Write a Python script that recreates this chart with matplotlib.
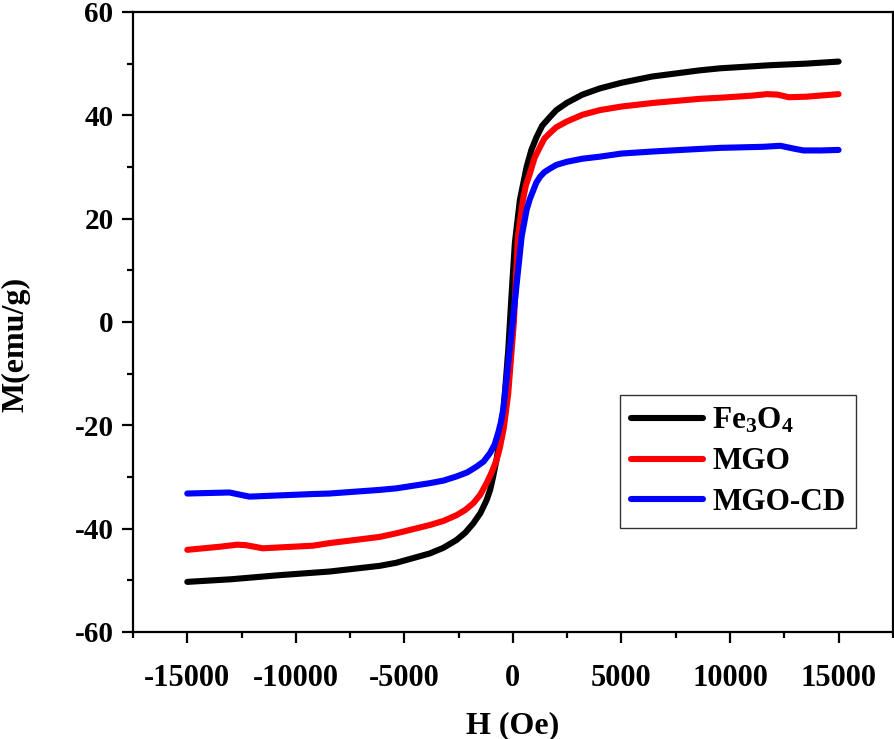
import numpy as np
import matplotlib
matplotlib.use('Agg')
import matplotlib.pyplot as plt

plt.rcParams['font.family'] = ['Liberation Serif', 'DejaVu Serif']
plt.rcParams['font.weight'] = 'bold'
plt.rcParams['axes.unicode_minus'] = False
plt.rcParams['mathtext.fontset'] = 'custom'
plt.rcParams['mathtext.rm'] = 'Liberation Serif:bold'
plt.rcParams['mathtext.bf'] = 'Liberation Serif:bold'
plt.rcParams['mathtext.it'] = 'Liberation Serif:bold'

# Fe3O4
h_fe = [-15000, -13000, -10750, -8450, -6140, -5370, -3830, -3200, -2600, -2200,
        -1830, -1500, -1215, -1050, -910, -750, -600, -420, -215, -60, 90, 320, 630,
        850, 1090, 1350, 1710, 2000, 2480, 3200, 4000, 5000, 6400, 8600, 9550,
        11860, 13500, 15000]
m_fe = [-50.3, -49.8, -49.0, -48.3, -47.2, -46.6, -44.8, -43.7, -42.2, -40.8,
        -39.0, -37.0, -34.5, -32.5, -29.9, -26.5, -22.5, -16.5, -5.4, 5.5, 15.3, 23.6, 30.0,
        33.3, 35.8, 38.0, 39.7, 41.0, 42.4, 44.0, 45.2, 46.3, 47.5, 48.7, 49.1,
        49.7, 50.0, 50.4]

# MGO
h_mgo = [-15000, -13500, -12700, -12300, -11520, -9215, -8450, -6140, -5370, -3830,
         -3200, -2600, -2200, -1830, -1500, -1215, -1000, -750, -600, -420, -220, 45,
         230, 460, 600, 785, 1000, 1250, 1450, 1710, 2000, 2480, 3200, 4000, 5000,
         6460, 8630, 9550, 11000, 11700, 12200, 12700, 13500, 15000]
m_mgo = [-44.1, -43.5, -43.1, -43.2, -43.8, -43.3, -42.8, -41.6, -40.9, -39.3,
         -38.5, -37.4, -36.4, -35.1, -33.4, -31.2, -29.3, -26.7, -24.3, -20.5, -14.0, 0.0,
         16.5, 23.6, 26.5, 28.8, 31.8, 33.9, 35.5, 36.6, 37.7, 38.8, 40.1, 41.0, 41.7,
         42.4, 43.2, 43.4, 43.8, 44.1, 44.0, 43.5, 43.6, 44.1]

# MGO-CD
h_cd = [-15000, -13060, -12600, -12140, -9215, -8450, -6140, -5370, -3830, -3200,
        -2600, -2100, -1675, -1350, -1060, -850, -680, -560, -450, -10, 400, 630,
        780, 940, 1080, 1250, 1450, 1710, 2000, 2480, 3200, 4015, 5000, 6460,
        8630, 9550, 11500, 12320, 13000, 13390, 14200, 15000]
m_cd = [-33.2, -33.0, -33.4, -33.8, -33.3, -33.2, -32.5, -32.2, -31.2, -30.7,
        -29.9, -29.1, -28.0, -27.0, -25.4, -23.8, -21.5, -19.5, -17.0, 0.0, 16.5, 21.7,
        23.8, 25.5, 27.0, 28.1, 29.0, 29.7, 30.4, 31.0, 31.6, 32.0, 32.6, 33.0,
        33.5, 33.7, 33.9, 34.1, 33.5, 33.2, 33.2, 33.3]

fig = plt.figure(figsize=(8.95, 7.39), dpi=100)
ax = fig.add_axes([0.1486, 0.1448, 0.849, 0.839])

lw = 4.4
ax.plot(h_fe, m_fe, color='black', lw=lw, solid_capstyle='round', solid_joinstyle='round',
        label=r'Fe$_\mathbf{3}$O$_\mathbf{4}$')
ax.plot(h_mgo, m_mgo, color='#ff0000', lw=lw, solid_capstyle='round', solid_joinstyle='round',
        label='MGO')
ax.plot(h_cd, m_cd, color='#0000ff', lw=lw, solid_capstyle='round', solid_joinstyle='round',
        label='MGO-CD')

ax.set_xlim(-17500, 17500)
ax.set_ylim(-60, 60)
ax.set_xticks(np.arange(-15000, 15001, 5000))
ax.set_xticks(np.arange(-17500, 17501, 2500), minor=True)
ax.set_yticks(np.arange(-60, 61, 20))
ax.set_yticks(np.arange(-50, 51, 10), minor=True)

for s in ax.spines.values():
    s.set_linewidth(1.6)
ax.tick_params(which='major', direction='out', length=8, width=1.6)
ax.tick_params(which='minor', direction='out', length=4.5, width=1.6)
ax.tick_params(axis='x', labelsize=22, pad=15)
ax.tick_params(axis='y', labelsize=21, pad=6)
for lab in ax.get_xticklabels() + ax.get_yticklabels():
    lab.set_fontweight('bold')

ax.set_xlabel('H (Oe)', fontsize=23, fontweight='bold', labelpad=13)
ax.set_ylabel('M(emu/g)', fontsize=23, fontweight='bold')
ax.yaxis.set_label_coords(-0.135, 0.463)

leg = ax.legend(loc='upper left', bbox_to_anchor=(0.641, 0.382), fontsize=22.5,
                frameon=True, fancybox=False, edgecolor='black', handlelength=2.3,
                handletextpad=0.3, borderpad=0.35, labelspacing=0.38, borderaxespad=0)
leg.get_frame().set_linewidth(1.0)

fig.savefig('out.png', dpi=100)
